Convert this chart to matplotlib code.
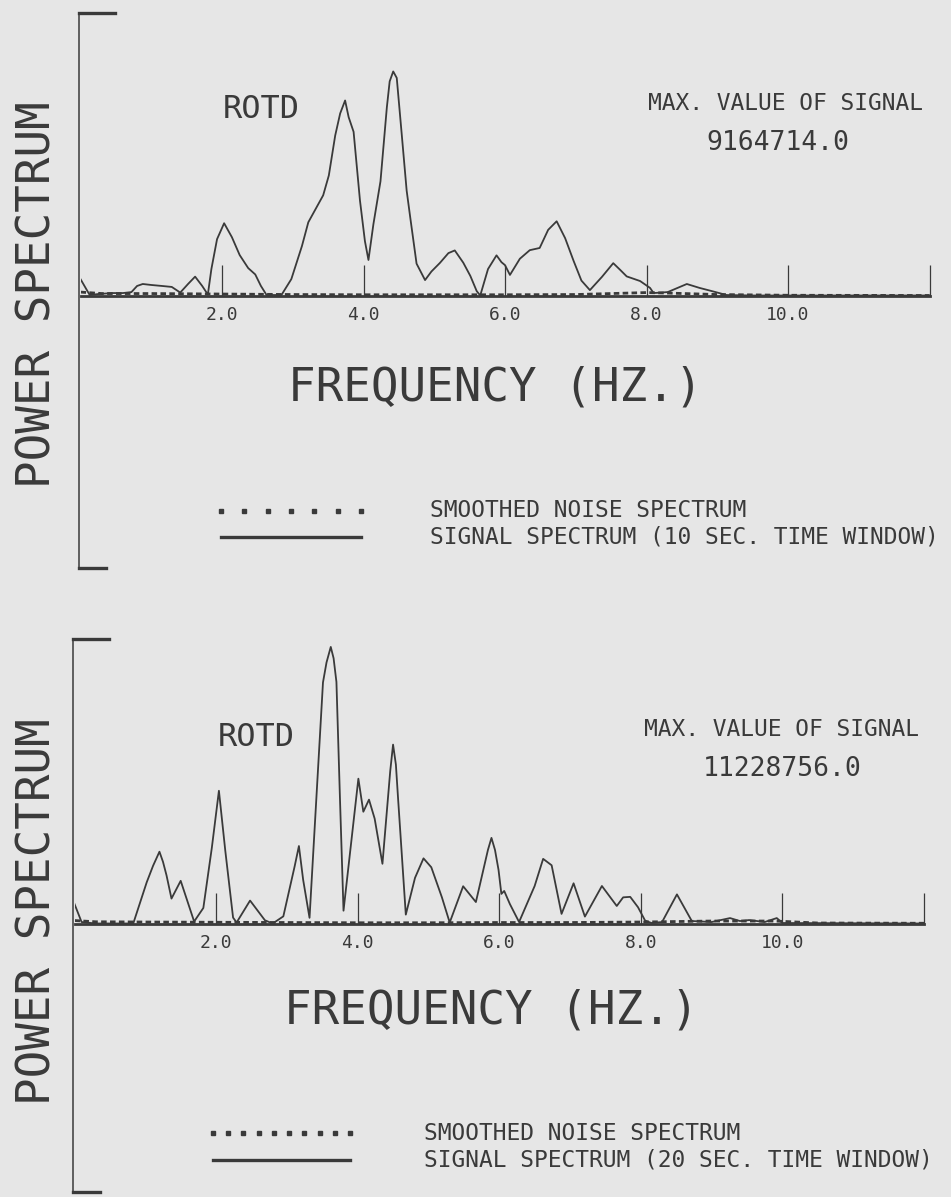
import matplotlib
matplotlib.use("Agg")
import matplotlib.pyplot as plt
from matplotlib.lines import Line2D

W, H, DPI = 951, 1197, 100
INK = "#3a3a3a"
PAPER = "#e6e6e6"
MONO = "DejaVu Sans Mono"

# ---- 10 s window spectrum (power in millions) ----
freq_10s = [0.00, 0.13, 0.25, 0.45, 0.60, 0.72, 0.80, 0.88, 1.00, 1.15,
            1.29, 1.41, 1.52, 1.62, 1.72, 1.80, 1.85, 1.93, 2.03, 2.14,
            2.25, 2.37, 2.47, 2.55, 2.63, 2.84, 2.98, 3.13, 3.22, 3.43,
            3.51, 3.60, 3.67, 3.74, 3.79, 3.86, 3.95, 4.02, 4.07, 4.14,
            4.24, 4.33, 4.37, 4.42, 4.47, 4.54, 4.61, 4.66, 4.75, 4.87,
            4.96, 5.08, 5.20, 5.29, 5.41, 5.51, 5.60, 5.65, 5.76, 5.88,
            5.95, 6.00, 6.07, 6.21, 6.35, 6.49, 6.61, 6.73, 6.85, 6.97,
            7.08, 7.20, 7.37, 7.53, 7.63, 7.72, 7.91, 8.05, 8.10, 8.30,
            8.57, 8.75, 8.95, 9.13, 9.50, 12.00]
signal_10s = [0.69, 0.04, 0.08, 0.12, 0.12, 0.16, 0.41, 0.49, 0.45, 0.41,
              0.37, 0.14, 0.49, 0.79, 0.41, 0.06, 1.10, 2.32, 2.97, 2.40,
              1.67, 1.14, 0.88, 0.41, 0.04, 0.04, 0.69, 2.04, 3.01, 4.11,
              4.92, 6.55, 7.45, 7.98, 7.30, 6.70, 3.90, 2.24, 1.47, 2.93,
              4.68, 7.70, 8.76, 9.164714, 8.90, 6.61, 4.30, 3.22, 1.32, 0.65,
              1.00, 1.35, 1.75, 1.86, 1.36, 0.82, 0.20, 0.02, 1.10, 1.66,
              1.38, 1.26, 0.86, 1.52, 1.87, 1.96, 2.70, 3.05, 2.36, 1.43,
              0.63, 0.24, 0.78, 1.34, 1.06, 0.80, 0.61, 0.33, 0.12, 0.16,
              0.49, 0.33, 0.18, 0.04, 0.02, 0.02]
noise_freq_10s = [0.0, 0.3, 1.0, 2.0, 3.0, 4.0, 5.0, 6.0, 7.0, 8.0, 8.3, 9.0, 10.0, 12.0]
noise_10s = [0.16, 0.10, 0.10, 0.08, 0.06, 0.05, 0.05, 0.05, 0.06, 0.14, 0.12, 0.06, 0.03, 0.02]

# ---- 20 s window spectrum (power in millions) ----
freq_20s = [0.00, 0.10, 0.30, 0.83, 1.02, 1.11, 1.20, 1.25, 1.30, 1.37,
            1.50, 1.69, 1.82, 1.94, 2.04, 2.13, 2.24, 2.29, 2.48, 2.69,
            2.80, 2.95, 3.11, 3.17, 3.23, 3.32, 3.51, 3.56, 3.62, 3.66,
            3.70, 3.75, 3.80, 4.01, 4.08, 4.16, 4.24, 4.35, 4.46, 4.50,
            4.54, 4.57, 4.68, 4.81, 4.93, 5.04, 5.19, 5.30, 5.49, 5.67,
            5.84, 5.89, 5.94, 5.99, 6.03, 6.07, 6.15, 6.28, 6.50, 6.62,
            6.74, 6.88, 7.05, 7.21, 7.45, 7.66, 7.75, 7.85, 7.96, 8.06,
            8.15, 8.30, 8.51, 8.72, 9.00, 9.26, 9.40, 9.53, 9.75, 9.92,
            10.00, 12.00]
signal_20s = [0.81, 0.08, 0.02, 0.02, 1.69, 2.36, 2.93, 2.52, 1.97, 1.03,
              1.75, 0.10, 0.65, 3.09, 5.40, 2.97, 0.26, 0.06, 0.95, 0.15,
              0.02, 0.31, 2.34, 3.16, 1.79, 0.25, 9.79, 10.60, 11.228756, 10.77,
              9.81, 5.08, 0.54, 5.89, 4.55, 5.04, 4.27, 2.44, 6.20, 7.27,
              6.46, 5.12, 0.38, 1.87, 2.66, 2.30, 1.08, 0.06, 1.53, 0.89,
              3.00, 3.49, 3.00, 2.19, 1.22, 1.34, 0.81, 0.08, 1.54, 2.64,
              2.38, 0.41, 1.65, 0.30, 1.54, 0.73, 1.08, 1.10, 0.68, 0.14,
              0.04, 0.08, 1.20, 0.12, 0.08, 0.24, 0.12, 0.16, 0.08, 0.24,
              0.04, 0.02]
noise_freq_20s = [0.0, 0.3, 1.0, 2.0, 3.0, 4.0, 5.0, 6.0, 7.0, 8.0, 9.0, 9.9, 10.5, 12.0]
noise_20s = [0.14, 0.09, 0.08, 0.07, 0.06, 0.05, 0.05, 0.06, 0.06, 0.08, 0.12, 0.12, 0.04, 0.03]

tick_positions = [2, 4, 6, 8, 10, 12]
tick_labels = ["2.0", "4.0", "6.0", "8.0", "10.0", ""]
Y_TOP = 11.55

panels = [
    dict(freq=freq_10s, signal=signal_10s, nfreq=noise_freq_10s, noise=noise_10s,
         x0=80.5, x12=929.5, base=296, top=13, bbot=568, ylab=295,
         tag=(261, 110), maxlab=(786, 104), maxval=(778, 143),
         xlab=(495, 388), leg1=511, leg2=537, legx=(221, 361), legtext=430,
         ndots=7, window="10"),
    dict(freq=freq_20s, signal=signal_20s, nfreq=noise_freq_20s, noise=noise_20s,
         x0=74.5, x12=924.0, base=924, top=639, bbot=1192, ylab=912,
         tag=(256, 737), maxlab=(782, 730), maxval=(782, 769),
         xlab=(491, 1011), leg1=1133, leg2=1160, legx=(213, 350), legtext=424,
         ndots=10, window="20"),
]

fig = plt.figure(figsize=(W / DPI, H / DPI), dpi=DPI, facecolor=PAPER)


def fx(px):
    return px / W


def fy(py):
    return 1 - py / H


def fig_line(xs, ys, **kw):
    fig.add_artist(Line2D([fx(v) for v in xs], [fy(v) for v in ys],
                          transform=fig.transFigure, color=INK, **kw))


def fig_text(x, y, s, **kw):
    fig.text(fx(x), fy(y), s, color=INK, family=MONO, ha="center", va="center", **kw)


for p in panels:
    ax = fig.add_axes([fx(p["x0"]), fy(p["base"]),
                       (p["x12"] - p["x0"]) / W, (p["base"] - p["top"]) / H])
    ax.set_facecolor("none")
    ax.set_xlim(0, 12)
    ax.set_ylim(0, Y_TOP)
    for side in ("left", "right", "top"):
        ax.spines[side].set_visible(False)
    ax.spines["bottom"].set_linewidth(2.0)
    ax.spines["bottom"].set_color(INK)
    ax.set_yticks([])
    ax.set_xticks(tick_positions)
    ax.set_xticklabels(tick_labels, family=MONO, fontsize=13, color=INK)
    ax.tick_params(axis="x", direction="in", length=22, width=0.9, color=INK, pad=7)

    # smoothed noise spectrum (dotted) and signal spectrum (solid)
    ax.plot(p["nfreq"], p["noise"], color=INK, lw=2.0, ls=(0, (2.0, 1.2)),
            solid_capstyle="butt")
    ax.plot(p["freq"], p["signal"], color=INK, lw=1.3, solid_joinstyle="round")

    # bracket on the left
    x0 = p["x0"] - 1.5
    fig_line([x0, x0], [p["top"], p["bbot"]], lw=1.1)
    fig_line([x0, x0 + 36], [p["top"], p["top"]], lw=2.4)
    fig_line([x0, x0 + 27], [p["bbot"], p["bbot"]], lw=2.4)

    fig_text(38, p["ylab"], "POWER SPECTRUM", rotation=90, fontsize=33)
    fig_text(*p["xlab"], "FREQUENCY (HZ.)", fontsize=33)
    fig_text(*p["tag"], "ROTD", fontsize=23)
    fig_text(*p["maxlab"], "MAX. VALUE OF SIGNAL", fontsize=16.5)
    fig_text(*p["maxval"], f"{max(p['signal']) * 1e6:.1f}", fontsize=19)

    # legend
    lx0, lx1 = p["legx"]
    n = p["ndots"]
    step = (lx1 - lx0) / (n - 1)
    fig.add_artist(Line2D([fx(lx0 + i * step) for i in range(n)], [fy(p["leg1"])] * n,
                          transform=fig.transFigure, ls="none", marker="s",
                          markersize=2.2, color=INK))
    fig_line([lx0, lx1], [p["leg2"], p["leg2"]], lw=2.4)
    fig.text(fx(p["legtext"]), fy(p["leg1"]), "SMOOTHED NOISE SPECTRUM", color=INK,
             family=MONO, fontsize=16.5, ha="left", va="center")
    fig.text(fx(p["legtext"]), fy(p["leg2"]),
             f"SIGNAL SPECTRUM ({p['window']} SEC. TIME WINDOW)", color=INK,
             family=MONO, fontsize=16.5, ha="left", va="center")

fig.savefig("out.png", dpi=DPI, facecolor=PAPER)
